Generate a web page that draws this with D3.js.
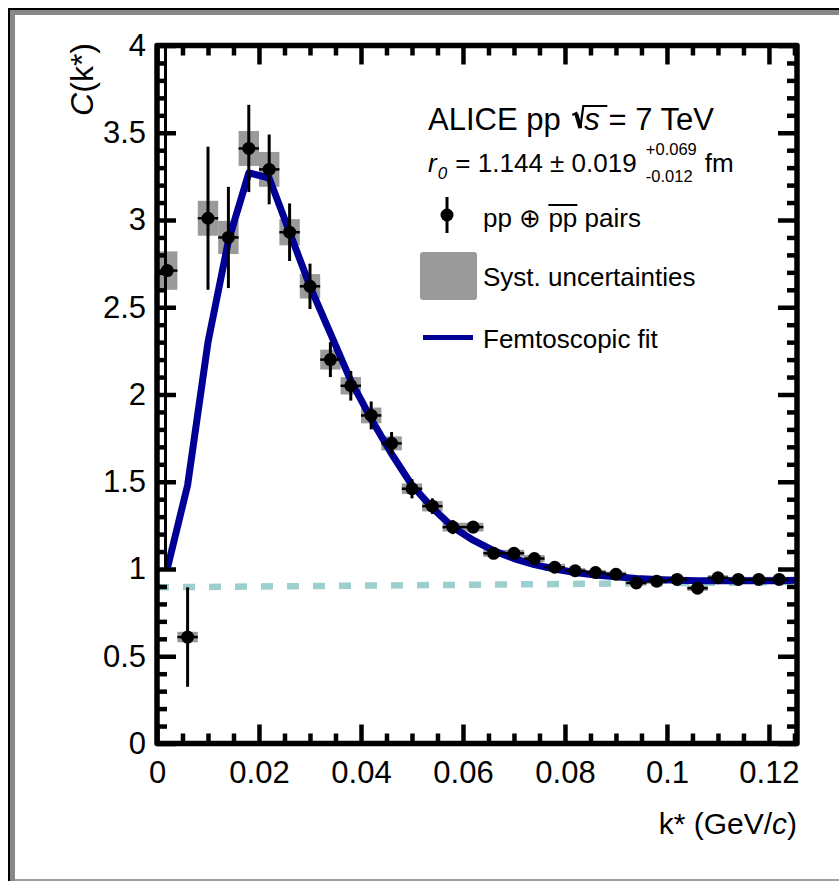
<!DOCTYPE html>
<html>
<head>
<meta charset="utf-8">
<script src="https://cdn.jsdelivr.net/npm/d3@7"></script>
<style>
  body { margin: 0; background: #fff; }
  svg { display: block; }
  text { font-family: "Liberation Sans", Arial, Helvetica, sans-serif; fill: #000; white-space: pre; }
</style>
</head>
<body>
<svg id="chart" width="839" height="881"></svg>
<script>
// p-p correlation function C(k*) measured in bins of k*
const kStar = [0.002, 0.006, 0.010, 0.014, 0.018, 0.022, 0.026, 0.030, 0.034, 0.038,
               0.042, 0.046, 0.050, 0.054, 0.058, 0.062, 0.066, 0.070, 0.074, 0.078,
               0.082, 0.086, 0.090, 0.094, 0.098, 0.102, 0.106, 0.110, 0.114, 0.118, 0.122];
const corr = [2.71, 0.61, 3.01, 2.90, 3.41, 3.29, 2.93, 2.62, 2.20, 2.05,
              1.88, 1.72, 1.46, 1.36, 1.24, 1.24, 1.09, 1.09, 1.06, 1.01,
              0.99, 0.98, 0.97, 0.92, 0.93, 0.94, 0.89, 0.95, 0.94, 0.94, 0.94];
const statErr = [0.03, 0.285, 0.41, 0.29, 0.25, 0.20, 0.165, 0.13, 0.10, 0.085,
                 0.08, 0.065, 0.055, 0.045, 0.04, 0.035, 0.03, 0.03, 0.025, 0.025,
                 0.02, 0.02, 0.02, 0.02, 0.02, 0.02, 0.02, 0.02, 0.02, 0.02, 0.02];
const systErr = [0.11, 0.03, 0.10, 0.095, 0.10, 0.10, 0.075, 0.07, 0.057, 0.05,
                 0.045, 0.04, 0.03, 0.03, 0.025, 0.025, 0.02, 0.02, 0.02, 0.02,
                 0.015, 0.015, 0.015, 0.015, 0.015, 0.015, 0.015, 0.015, 0.015, 0.015, 0.015];
const binHalfWidth = 0.002;

// femtoscopic fit evaluated at the bin centres
const fitK = [0.002, 0.006, 0.010, 0.014, 0.018, 0.022, 0.026, 0.030, 0.034, 0.038,
              0.042, 0.046, 0.050, 0.054, 0.058, 0.062, 0.066, 0.070, 0.074, 0.078,
              0.082, 0.086, 0.090, 0.094, 0.098, 0.102, 0.106, 0.110, 0.114, 0.118, 0.122, 0.1255];
const fitC = [1.00, 1.48, 2.30, 2.88, 3.27, 3.24, 2.93, 2.62, 2.35, 2.08,
              1.86, 1.66, 1.48, 1.35, 1.24, 1.165, 1.105, 1.06, 1.025, 1.00,
              0.98, 0.965, 0.955, 0.945, 0.94, 0.935, 0.933, 0.932, 0.932, 0.932, 0.933, 0.935];

// baseline
const baseK = [0.0, 0.1255];
const baseC = [0.895, 0.925];

// axis ticks
const xMajorTicks = [0, 0.02, 0.04, 0.06, 0.08, 0.10, 0.12];
const xTickLabels = ["0", "0.02", "0.04", "0.06", "0.08", "0.1", "0.12"];
const yMajorTicks = [0, 0.5, 1, 1.5, 2, 2.5, 3, 3.5, 4];
const yTickLabels = ["0", "0.5", "1", "1.5", "2", "2.5", "3", "3.5", "4"];
const xMinorTicks = [0.005, 0.010, 0.015, 0.025, 0.030, 0.035, 0.045, 0.050, 0.055, 0.065, 0.070, 0.075,
                     0.085, 0.090, 0.095, 0.105, 0.110, 0.115, 0.125];
const yMinorTicks = [0.1, 0.2, 0.3, 0.4, 0.6, 0.7, 0.8, 0.9, 1.1, 1.2, 1.3, 1.4, 1.6, 1.7, 1.8, 1.9,
                     2.1, 2.2, 2.3, 2.4, 2.6, 2.7, 2.8, 2.9, 3.1, 3.2, 3.3, 3.4, 3.6, 3.7, 3.8, 3.9];

const svg = d3.select("#chart");
const FONT = '"Liberation Sans", Arial, Helvetica, sans-serif';
const xScale = d3.scaleLinear().domain([0, 0.1255]).range([157, 797]);
const yScale = d3.scaleLinear().domain([0, 4]).range([743.5, 45.5]);

// page frame
svg.append("path").attr("d", "M12.5,881V12.5H839").attr("fill", "none").attr("stroke", "#888").attr("stroke-width", 5);
svg.append("path").attr("d", "M9,881V9H839").attr("fill", "none").attr("stroke", "#000").attr("stroke-width", 2);
svg.append("line").attr("x1", 15).attr("x2", 839).attr("y1", 880).attr("y2", 880).attr("stroke", "#a0a0a0").attr("stroke-width", 2);

const plot = svg.append("g");

// systematic uncertainty boxes
plot.append("g").selectAll("rect").data(kStar).join("rect")
  .attr("x", (d) => xScale(d - binHalfWidth))
  .attr("width", (d) => xScale(d + binHalfWidth) - xScale(d - binHalfWidth))
  .attr("y", (d, i) => yScale(corr[i] + systErr[i]))
  .attr("height", (d, i) => yScale(corr[i] - systErr[i]) - yScale(corr[i] + systErr[i]))
  .attr("fill", "#9a9a9a");

// baseline (dashed)
plot.append("path")
  .datum(baseK.map((k, i) => [k, baseC[i]]))
  .attr("d", d3.line().x((d) => xScale(d[0])).y((d) => yScale(d[1])))
  .attr("fill", "none").attr("stroke", "#9dcfcf").attr("stroke-width", 6.5)
  .attr("stroke-dasharray", "12,14");

// femtoscopic fit
plot.append("path")
  .datum(fitK.map((k, i) => [k, fitC[i]]))
  .attr("d", d3.line().x((d) => xScale(d[0])).y((d) => yScale(d[1])))
  .attr("fill", "none").attr("stroke", "#000096").attr("stroke-width", 7)
  .attr("stroke-linejoin", "round");

// statistical error bars and markers
const pts = plot.append("g");
pts.selectAll("line.v").data(kStar).join("line").attr("class", "v")
  .attr("x1", (d) => xScale(d)).attr("x2", (d) => xScale(d))
  .attr("y1", (d, i) => yScale(corr[i] + statErr[i]))
  .attr("y2", (d, i) => yScale(corr[i] - statErr[i]))
  .attr("stroke", "#000").attr("stroke-width", 3);
pts.selectAll("line.h").data(kStar).join("line").attr("class", "h")
  .attr("x1", (d) => xScale(d - binHalfWidth)).attr("x2", (d) => xScale(d + binHalfWidth))
  .attr("y1", (d, i) => yScale(corr[i])).attr("y2", (d, i) => yScale(corr[i]))
  .attr("stroke", "#000").attr("stroke-width", 2.5);
pts.selectAll("circle").data(kStar).join("circle")
  .attr("cx", (d) => xScale(d)).attr("cy", (d, i) => yScale(corr[i]))
  .attr("r", 6.5).attr("fill", "#000");

// axis titles
const xTitle = svg.append("text").attr("x", 797).attr("y", 834).attr("text-anchor", "end")
  .attr("font-size", 30);
xTitle.append("tspan").text("k* (GeV/");
xTitle.append("tspan").attr("font-style", "italic").text("c");
xTitle.append("tspan").text(")");

const yTitle = svg.append("text").attr("transform", "translate(93,43) rotate(-90)")
  .attr("text-anchor", "end").attr("font-size", 32);
yTitle.append("tspan").attr("font-style", "italic").text("C");
yTitle.append("tspan").text("(k*)");

// legend / annotation block
const leg = svg.append("g");
const LX = 428;

function addText(parent, xPos, yPos, str, size, italic) {
  const node = parent.append("text").attr("x", xPos).attr("y", yPos).attr("font-size", size)
    .attr("xml:space", "preserve").text(str);
  if (italic) node.attr("font-style", "italic");
  return node;
}
function widthOf(sel) { return sel.node().getComputedTextLength(); }

// ALICE pp sqrt(s) = 7 TeV
let penX = LX;
let piece = addText(leg, penX, 130, "ALICE pp ", 31);
penX += widthOf(piece) + 2;
leg.append("path")
  .attr("d", `M${penX + 1},115 L${penX + 5},113 L${penX + 9},128 L${penX + 12},106 L${penX + 36},106`)
  .attr("fill", "none").attr("stroke", "#000").attr("stroke-width", 2.2).attr("stroke-linejoin", "miter");
leg.append("path")
  .attr("d", `M${penX + 5},114 L${penX + 9},128`)
  .attr("fill", "none").attr("stroke", "#000").attr("stroke-width", 4);
penX += 13;
piece = addText(leg, penX, 130, "s", 31, true);
penX += widthOf(piece);
addText(leg, penX, 130, " = 7 TeV", 31);

// r0 line
penX = LX;
piece = addText(leg, penX, 172, "r", 26, true);
penX += widthOf(piece) + 1;
piece = addText(leg, penX, 179, "0", 17, true);
penX += widthOf(piece) + 1;
piece = addText(leg, penX, 172, " = 1.144 ", 26);
penX += widthOf(piece);
piece = addText(leg, penX, 172, "\u00B1", 26);
penX += widthOf(piece);
piece = addText(leg, penX, 172, " 0.019 ", 26);
penX += widthOf(piece) + 2;
const supText = addText(leg, penX, 155, "+0.069", 16.5);
const subText = addText(leg, penX, 182, "-0.012", 16.5);
penX += Math.max(widthOf(supText), widthOf(subText)) + 8;
addText(leg, penX, 172, "fm", 26);

// data marker entry
leg.append("line").attr("x1", 447).attr("x2", 447).attr("y1", 197).attr("y2", 233)
  .attr("stroke", "#000").attr("stroke-width", 3);
leg.append("circle").attr("cx", 447).attr("cy", 215).attr("r", 6.5).attr("fill", "#000");
penX = 483;
piece = addText(leg, penX, 227, "pp \u2295 ", 26);
penX += widthOf(piece);
piece = addText(leg, penX, 227, "pp", 26);
const ppWidth = widthOf(piece);
leg.append("line").attr("x1", penX).attr("x2", penX + ppWidth).attr("y1", 205).attr("y2", 205)
  .attr("stroke", "#000").attr("stroke-width", 2);
penX += ppWidth;
addText(leg, penX, 227, " pairs", 26);

// systematic entry
leg.append("rect").attr("x", 420).attr("y", 252).attr("width", 57).attr("height", 48)
  .attr("rx", 3).attr("fill", "#9a9a9a");
addText(leg, 483, 286, "Syst. uncertainties", 26);

// fit entry
leg.append("line").attr("x1", 423).attr("x2", 473).attr("y1", 337.5).attr("y2", 337.5)
  .attr("stroke", "#000096").attr("stroke-width", 5);
addText(leg, 483, 348, "Femtoscopic fit", 26);

// axes: ticks on all four sides, pointing inwards; drawn on top
const axes = svg.append("g");
function styleTicks(g) {
  g.select(".domain").remove();
  g.selectAll(".tick line").attr("stroke", "#000").attr("stroke-width", 4.5);
  g.selectAll(".tick text").attr("font-family", FONT).attr("font-size", 31).attr("fill", "#000");
}
function addAxis(axisFn, tx, ty, values, labels, size, pad) {
  const ax = axisFn.tickValues(values).tickSize(-size).tickSizeOuter(0).tickPadding(pad)
    .tickFormat(labels ? (d, i) => labels[i] : () => "");
  axes.append("g").attr("transform", `translate(${tx},${ty})`).call(ax).call(styleTicks);
}
addAxis(d3.axisBottom(xScale), 0, 743.5, xMajorTicks, xTickLabels, 19, 17);
addAxis(d3.axisBottom(xScale), 0, 743.5, xMinorTicks, null, 10, 3);
addAxis(d3.axisTop(xScale), 0, 45.5, xMajorTicks, null, 19, 3);
addAxis(d3.axisTop(xScale), 0, 45.5, xMinorTicks, null, 10, 3);
addAxis(d3.axisLeft(yScale), 157, 0, yMajorTicks, yTickLabels, 19, 11);
addAxis(d3.axisLeft(yScale), 157, 0, yMinorTicks, null, 10, 3);
addAxis(d3.axisRight(yScale), 797, 0, yMajorTicks, null, 19, 3);
addAxis(d3.axisRight(yScale), 797, 0, yMinorTicks, null, 10, 3);

// inner rail along the upper part of the y axis
axes.append("line").attr("x1", 165.5).attr("x2", 165.5).attr("y1", yScale(1)).attr("y2", yScale(4))
  .attr("stroke", "#000").attr("stroke-width", 3);

// frame
axes.append("path")
  .attr("d", `M${xScale(0)},${yScale(0)}V${yScale(4)}H${xScale(0.1255)}V${yScale(0)}Z`)
  .attr("fill", "none").attr("stroke", "#000").attr("stroke-width", 5.5).attr("stroke-linejoin", "round");
</script>
</body>
</html>
